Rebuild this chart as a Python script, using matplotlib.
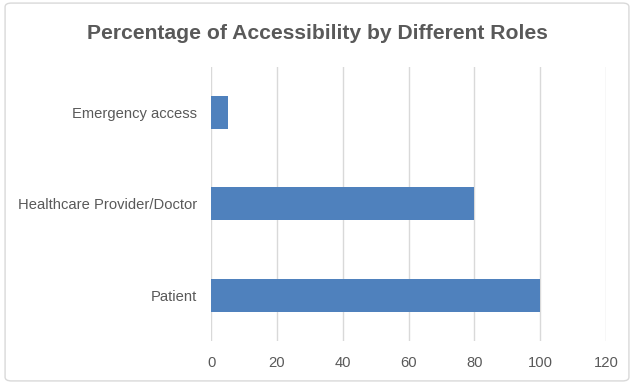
import matplotlib.pyplot as plt
from matplotlib.patches import FancyBboxPatch

roles = ['Patient', 'Healthcare Provider/Doctor', 'Emergency access']
percent = [100, 80, 5]
xticks = [0, 20, 40, 60, 80, 100, 120]

plt.rcParams['font.family'] = ['Liberation Sans', 'DejaVu Sans']

fig = plt.figure(figsize=(6.34, 3.84), dpi=100)
ax = fig.add_axes([0.333, 0.112, 0.623, 0.714])

ax.barh(roles, percent, height=0.36, color='#4F81BD', zorder=3)
ax.set_xlim(0, 120)
ax.set_ylim(-0.5, 2.5)
ax.set_xticks(xticks)
ax.grid(axis='x', color='#D9D9D9', linewidth=1, zorder=0)
for s in ax.spines.values():
    s.set_visible(False)
ax.tick_params(length=0, labelsize=10.6, colors='#595959')
ax.tick_params(axis='x', pad=11)
ax.tick_params(axis='y', pad=10)

fig.text(0.5, 0.912, 'Percentage of Accessibility by Different Roles',
         ha='center', va='center', fontsize=15.2, fontweight='bold', color='#595959')

border = FancyBboxPatch((0.008, 0.008), 0.984, 0.984, boxstyle='round,pad=0,rounding_size=0.01',
                        transform=fig.transFigure, fill=False, edgecolor='#D9D9D9', linewidth=1)
fig.patches.append(border)

fig.savefig('out.png')
